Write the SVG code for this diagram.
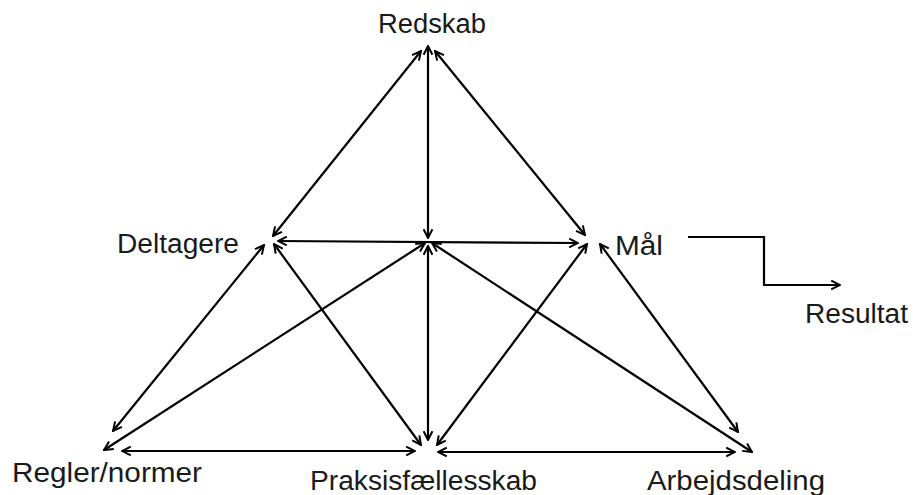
<svg xmlns="http://www.w3.org/2000/svg" width="914" height="495" viewBox="0 0 914 495">
<defs>
<marker id="ah" viewBox="0 0 10 10" refX="9" refY="5" markerWidth="11" markerHeight="11" markerUnits="userSpaceOnUse" orient="auto-start-reverse">
<path d="M1,1 L9,5 L1,9" fill="none" stroke="#000" stroke-width="1.8"/>
</marker>
<style>
.lbl{font-family:"Liberation Sans",Arial,sans-serif;font-size:27px;fill:#1a1a1a}
.c{stroke:#000;stroke-width:2.2;fill:none}
.b{marker-start:url(#ah);marker-end:url(#ah)}
.e{marker-end:url(#ah)}
</style>
</defs>
<rect width="914" height="495" fill="#fff"/>
<g id="connectors">
<line class="c b" x1="421" y1="51" x2="273" y2="236"/>
<line class="c b" x1="428" y1="46" x2="428" y2="238"/>
<line class="c b" x1="435" y1="51" x2="585" y2="235"/>
<line class="c b" x1="278" y1="241" x2="578" y2="243"/>
<line class="c b" x1="264" y1="245" x2="113" y2="431"/>
<line class="c b" x1="274" y1="244" x2="421" y2="445"/>
<line class="c b" x1="425" y1="243" x2="104" y2="450"/>
<line class="c b" x1="428" y1="246" x2="428" y2="440"/>
<line class="c b" x1="432" y1="243" x2="752" y2="452"/>
<line class="c b" x1="587" y1="244" x2="437" y2="445"/>
<line class="c b" x1="600" y1="244" x2="738" y2="432"/>
<line class="c b" x1="122" y1="451" x2="415" y2="451"/>
<line class="c b" x1="438" y1="452" x2="735" y2="452"/>
<polyline class="c e" points="688,237 764,237 764,285 840,285"/>
</g>
<g id="redskab"><text class="lbl" x="378" y="33" textLength="108" lengthAdjust="spacingAndGlyphs">Redskab</text></g>
<g id="deltagere"><text class="lbl" x="117" y="253" textLength="122" lengthAdjust="spacingAndGlyphs">Deltagere</text></g>
<g id="maal"><text class="lbl" x="615" y="255" textLength="48" lengthAdjust="spacingAndGlyphs">Mål</text></g>
<g id="resultat"><text class="lbl" x="805" y="323" textLength="103" lengthAdjust="spacingAndGlyphs">Resultat</text></g>
<g id="regler"><text class="lbl" x="12" y="482" textLength="190" lengthAdjust="spacingAndGlyphs">Regler/normer</text></g>
<g id="praksis"><text class="lbl" x="310" y="490" textLength="227" lengthAdjust="spacingAndGlyphs">Praksisfællesskab</text></g>
<g id="arbejdsdeling"><text class="lbl" x="647" y="490" textLength="178" lengthAdjust="spacingAndGlyphs">Arbejdsdeling</text></g>
</svg>
